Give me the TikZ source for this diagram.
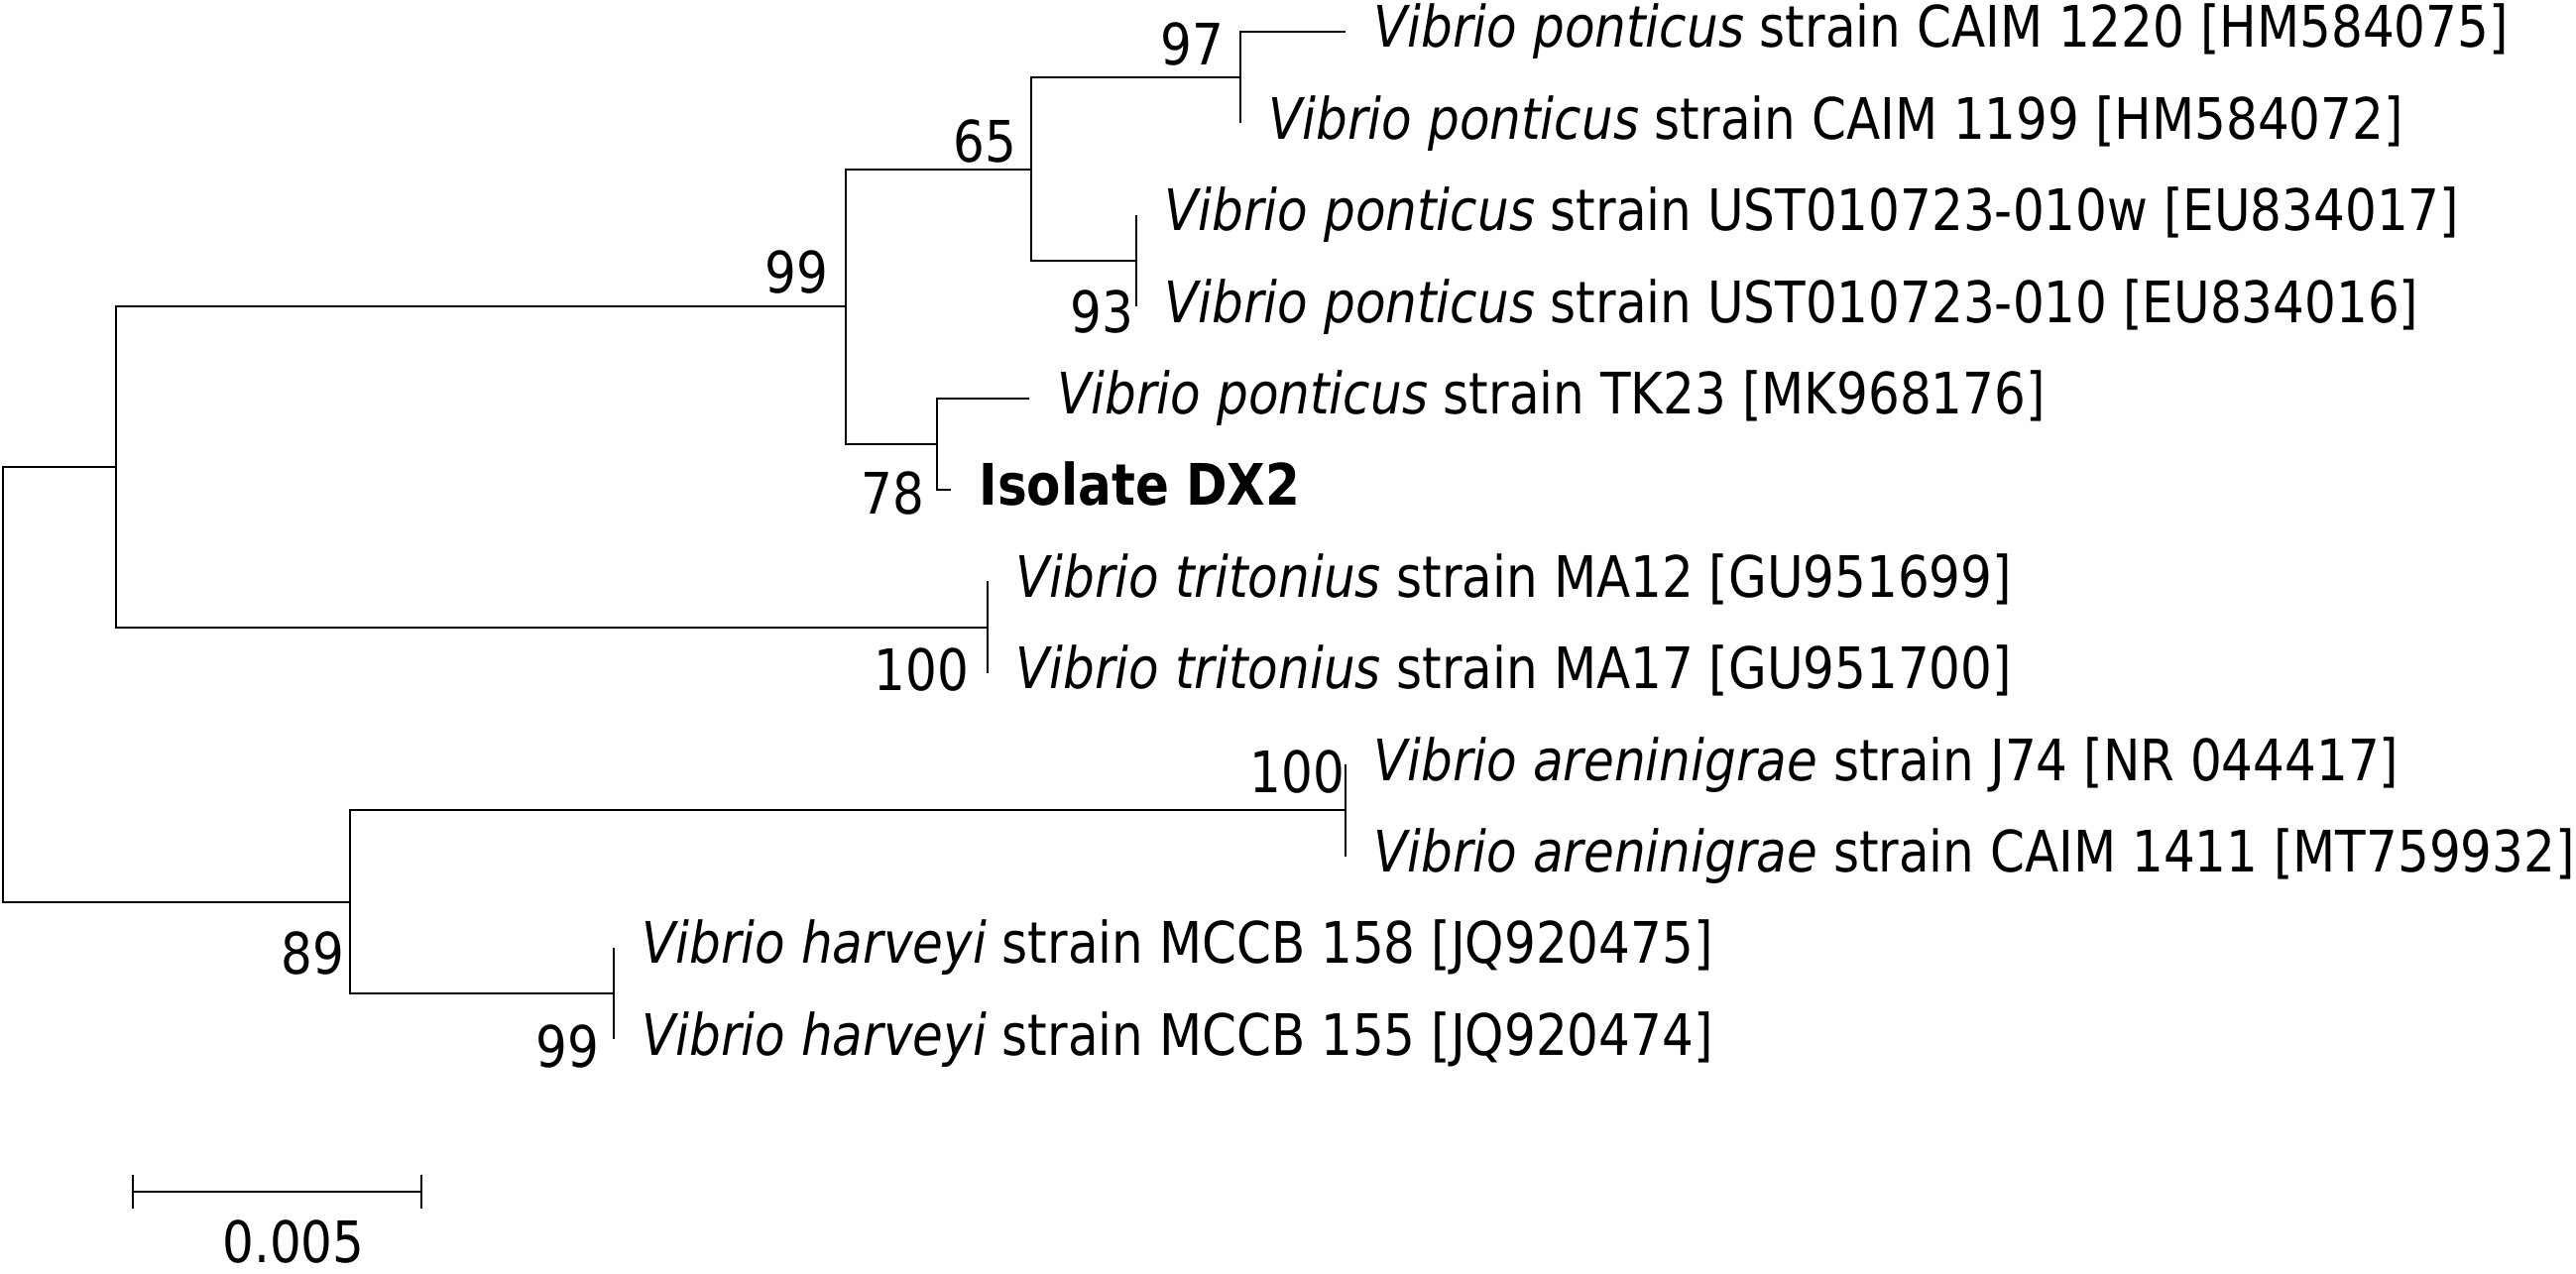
\documentclass[tikz,border=0pt]{standalone}
\usepackage{fontspec}
\setmainfont{DejaVu Sans}[FakeStretch=0.867]
\usepackage{tikz}
\usetikzlibrary{calc,positioning}

\begin{document}
\begin{tikzpicture}[x=0.01cm,y=-0.01cm,line width=0.6pt,
                    every node/.style={font=\fontsize{16.4}{20}\selectfont}]
  \tikzstyle{elbow}=[to path={|- (\tikztotarget)}]
  \tikzstyle{taxon}=[anchor=base west,inner sep=0pt,xshift=7.8pt,yshift=-4.5pt]
  \tikzstyle{boot}=[anchor=base east,inner sep=0pt]
  \useasboundingbox (0,0) rectangle (2598,1284);

  % internal nodes
  \coordinate (root) at (3,690.35);
  \coordinate (A) at (117,470.9);
  \coordinate (B) at (853,309.2);
  \coordinate (C) at (1040,170.6);
  \coordinate (D) at (1251,78.2);
  \coordinate (E) at (1146,263);
  \coordinate (F) at (945,447.8);
  \coordinate (G) at (996,632.6);
  \coordinate (H) at (353,909.8);
  \coordinate (I) at (1357,817.4);
  \coordinate (J) at (619,1002.2);

  % tips
  \coordinate (l1) at (1357,32);
  \coordinate (l2) at (1251,124.4);
  \coordinate (l3) at (1146,216.8);
  \coordinate (l4) at (1146,309.2);
  \coordinate (l5) at (1038,401.6);
  \coordinate (l6) at (959,494);
  \coordinate (l7) at (996,586.4);
  \coordinate (l8) at (996,678.8);
  \coordinate (l9) at (1357,771.2);
  \coordinate (l10) at (1357,863.6);
  \coordinate (l11) at (619,956);
  \coordinate (l12) at (619,1048.4);

  \path[draw] (root) edge[elbow] (A) edge[elbow] (H)
        (A) edge[elbow] (B) edge[elbow] (G)
        (B) edge[elbow] (C) edge[elbow] (F)
        (C) edge[elbow] (D) edge[elbow] (E)
        (D) edge[elbow] (l1) edge[elbow] (l2)
        (E) edge[elbow] (l3) edge[elbow] (l4)
        (F) edge[elbow] (l5) edge[elbow] (l6)
        (G) edge[elbow] (l7) edge[elbow] (l8)
        (H) edge[elbow] (I) edge[elbow] (J)
        (I) edge[elbow] (l9) edge[elbow] (l10)
        (J) edge[elbow] (l11) edge[elbow] (l12);

  \node[taxon] (t1) at (l1) {\textit{Vibrio ponticus} strain CAIM 1220 [HM584075]};
  \node[taxon] (t2) at (l2) {\textit{Vibrio ponticus} strain CAIM 1199 [HM584072]};
  \node[taxon] (t3) at (l3) {\textit{Vibrio ponticus} strain UST010723-010w [EU834017]};
  \node[taxon] (t4) at (l4) {\textit{Vibrio ponticus} strain UST010723-010 [EU834016]};
  \node[taxon] (t5) at (l5) {\textit{Vibrio ponticus} strain TK23 [MK968176]};
  \node[taxon] (t6) at (l6) {\textbf{Isolate DX2}};
  \node[taxon] (t7) at (l7) {\textit{Vibrio tritonius} strain MA12 [GU951699]};
  \node[taxon] (t8) at (l8) {\textit{Vibrio tritonius} strain MA17 [GU951700]};
  \node[taxon] (t9) at (l9) {\textit{Vibrio areninigrae} strain J74 [NR 044417]};
  \node[taxon] (t10) at (l10) {\textit{Vibrio areninigrae} strain CAIM 1411 [MT759932]};
  \node[taxon] (t11) at (l11) {\textit{Vibrio harveyi} strain MCCB 158 [JQ920475]};
  \node[taxon] (t12) at (l12) {\textit{Vibrio harveyi} strain MCCB 155 [JQ920474]};

  % bootstrap values
  \node[boot] (bD) at (1235,65) {97};
  \node[boot] (bC) at (1026,163) {65};
  \node[boot] (bB) at (836,295) {99};
  \node[boot] (bE) at (1144,335) {93};
  \node[boot] (bF) at (933,518) {78};
  \node[boot] (bG) at (978,696) {100};
  \node[boot] (bI) at (1357,799) {100};
  \node[boot] (bH) at (348,982) {89};
  \node[boot] (bJ) at (605,1076) {99};

  % scale bar
  \coordinate (s0) at (134,1202);
  \coordinate (s1) at (425,1202);
  \draw (s0) -- (s1);
  \draw (s0) ++(0,-17) -- ++(0,34);
  \draw (s1) ++(0,-17) -- ++(0,34);
  \node[anchor=base] (sbar) at (296,1273) {0.005};
\end{tikzpicture}
\end{document}
